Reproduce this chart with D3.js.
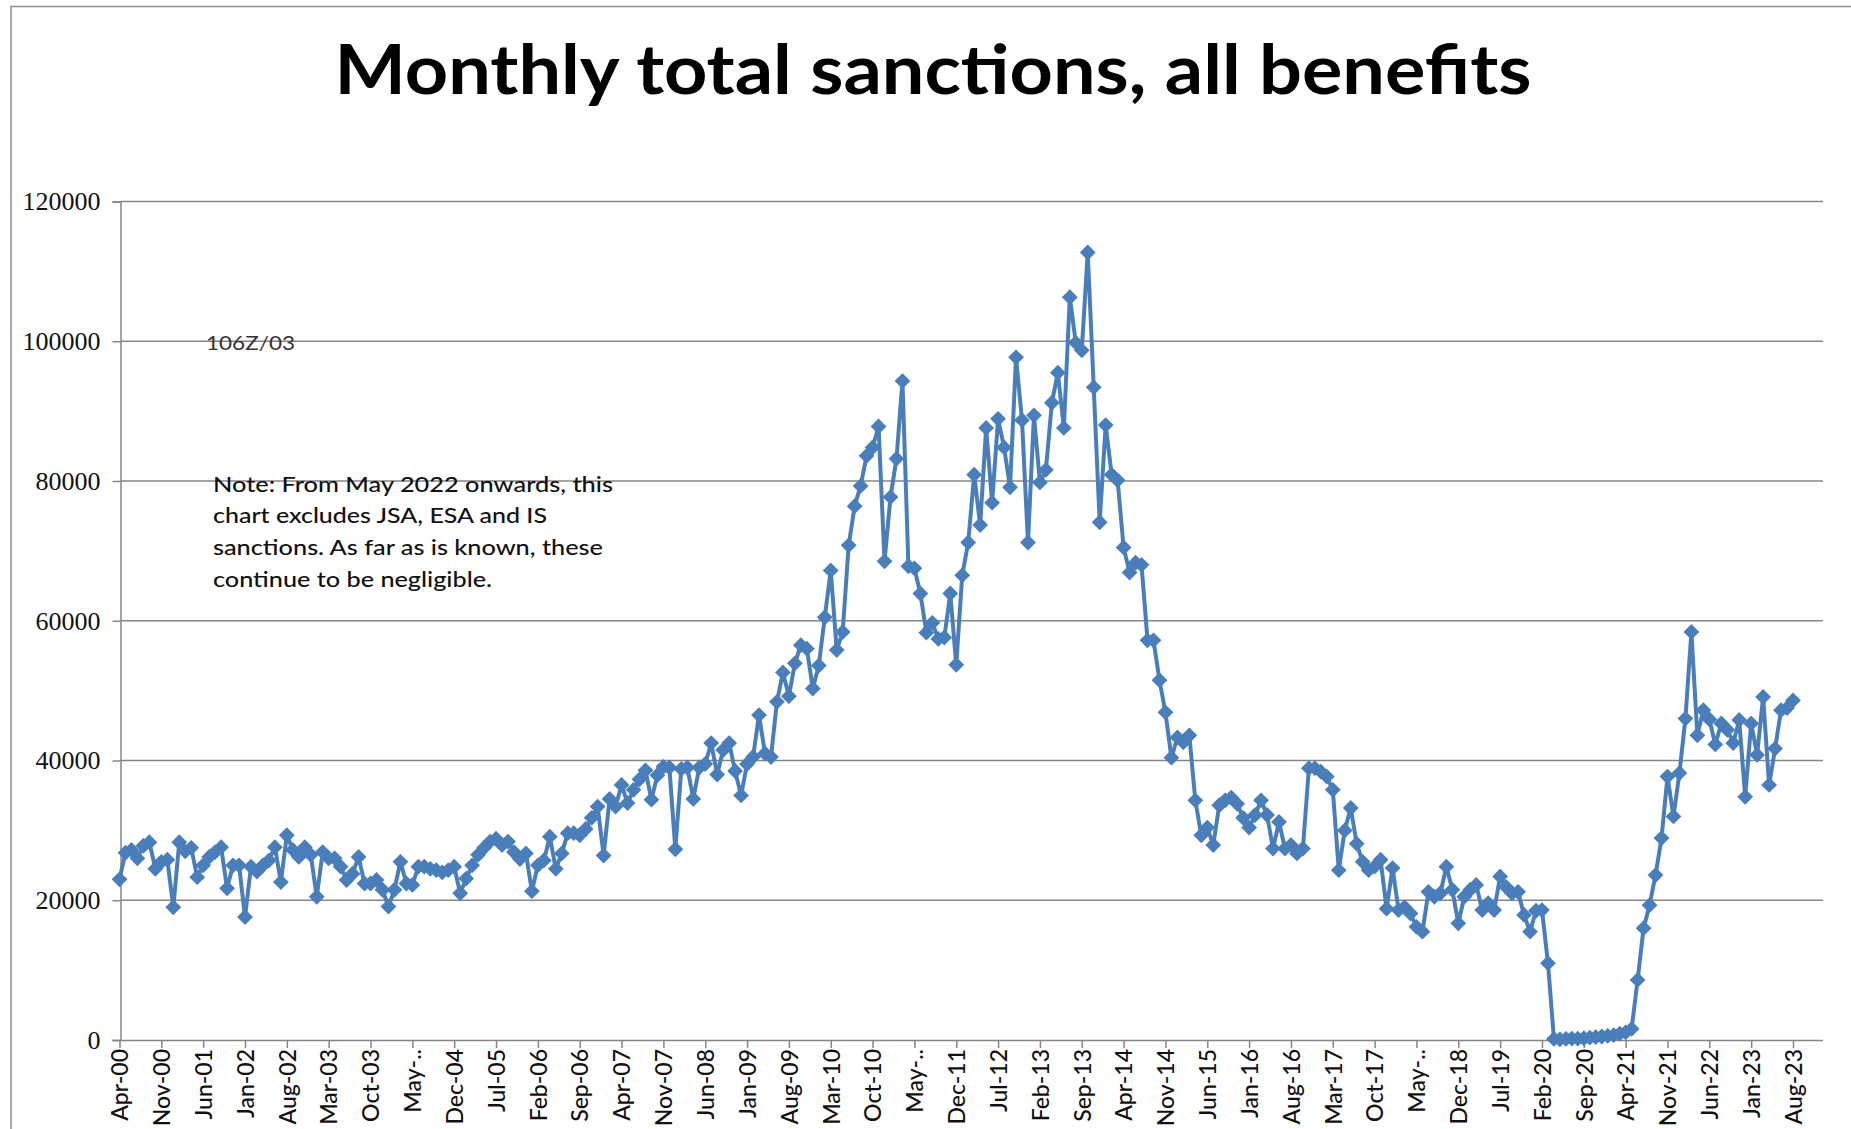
<!DOCTYPE html>
<html>
<head>
<meta charset="utf-8">
<script src="https://cdn.jsdelivr.net/npm/d3@7"></script>
<style>
  html, body { margin: 0; padding: 0; background: #fff; overflow: hidden; }
  svg { display: block; }
</style>
</head>
<body>
<svg id="chart" width="1851" height="1129"></svg>
<script>
// ---------------- DATA ----------------
const titleText = "Monthly total sanctions, all benefits";
const startMonth = new Date(2000, 3, 1);   // Apr-00
const endMonth = new Date(2023, 8, 1);     // exclusive -> last is Aug-23
const categories = d3.timeMonth.range(startMonth, endMonth).map(d3.timeFormat("%b-%y"));

const sanctions = [
  23000, 26800, 27200, 26000, 27800, 28300, 24500, 25500, 25800, 19000,
  28300, 27000, 27500, 23300, 25000, 26200, 26900, 27600, 21700, 25000,
  25000, 17600, 24800, 24100, 25000, 25700, 27600, 22600, 29300, 27200,
  26200, 27600, 26500, 20500, 26900, 26000, 26000, 24800, 22900, 23800,
  26200, 22400, 22400, 22900, 21500, 19100, 21500, 25500, 22400, 22200,
  24800, 24800, 24500, 24300, 24000, 24300, 24800, 21000, 23100, 25000,
  26500, 27500, 28400, 28800, 27900, 28400, 26900, 25900, 26700, 21300,
  25000, 25700, 29100, 24500, 26700, 29600, 29600, 29300, 30200, 31800,
  33400, 26400, 34500, 33400, 36500, 33900, 35800, 37300, 38600, 34400,
  37900, 39100, 39000, 27300, 38800, 39000, 34500, 39000, 39500, 42500,
  38000, 41500, 42500, 38500, 35000, 39500, 40500, 46500, 41000, 40500,
  48400, 52600, 49200, 53900, 56500, 56000, 50300, 53600, 60500, 67200,
  55800, 58400, 70800, 76400, 79300, 83600, 84800, 87800, 68500, 77700,
  83200, 94300, 67800, 67500, 63900, 58300, 59700, 57400, 57600, 63900,
  53700, 66500, 71200, 80900, 73700, 87600, 76900, 88900, 84800, 79100,
  97700, 88700, 71200, 89400, 79800, 81600, 91200, 95500, 87600, 106300,
  99800, 98700, 112700, 93400, 74100, 88000, 80900, 80100, 70500, 66900,
  68300, 68000, 57200, 57200, 51500, 46900, 40400, 43300, 42600, 43600,
  34300, 29300, 30400, 27900, 33600, 34300, 34700, 33800, 31800, 30400,
  32200, 34300, 32200, 27400, 31200, 27400, 27900, 26700, 27400, 38900,
  38900, 38400, 37700, 35800, 24300, 30000, 33200, 28100, 25500, 24300,
  24800, 25800, 18800, 24600, 18600, 19000, 18100, 16200, 15500, 21200,
  20500, 21000, 24800, 21500, 16700, 20500, 21500, 22200, 18600, 19600,
  18600, 23400, 21900, 21000, 21200, 17900, 15500, 18500, 18600, 11000,
  150, 100, 150, 200, 200, 250, 350, 400, 500, 600,
  700, 900, 1100, 1600, 8600, 16000, 19300, 23600, 28900, 37700,
  32000, 38200, 46000, 58400, 43600, 47200, 45900, 42300, 45300, 44400,
  42500, 45800, 34800, 45300, 40800, 49100, 36500, 41700, 47200, 47500, 48600
];

const tickLabels = [
  "Apr-00","Nov-00","Jun-01","Jan-02","Aug-02","Mar-03","Oct-03","May-..","Dec-04","Jul-05",
  "Feb-06","Sep-06","Apr-07","Nov-07","Jun-08","Jan-09","Aug-09","Mar-10","Oct-10","May-..",
  "Dec-11","Jul-12","Feb-13","Sep-13","Apr-14","Nov-14","Jun-15","Jan-16","Aug-16","Mar-17",
  "Oct-17","May-..","Dec-18","Jul-19","Feb-20","Sep-20","Apr-21","Nov-21","Jun-22","Jan-23","Aug-23"
];
const yTicks = [0, 20000, 40000, 60000, 80000, 100000, 120000];
const codeLabel = "106Z/03";
const noteLines = [
  "Note: From May 2022 onwards, this",
  "chart excludes JSA, ESA and IS",
  "sanctions. As far as is known, these",
  "continue to be negligible."
];

// ---------------- CHART ----------------
const svg = d3.select("#chart");
const W = 1851, H = 1129;
const plotLeft = 120.5, plotRight = 1823, plotTop = 201.5, plotBottom = 1040;
const blue = "#4a7ebb";
const gridColor = "#868686";
const sans = "Lato, 'Open Sans', 'Noto Sans', sans-serif";

svg.append("rect").attr("width", W).attr("height", H).attr("fill", "#fff");

// outer chart frame
svg.append("rect")
  .attr("x", 11).attr("y", 6.5).attr("width", 1900).attr("height", 1300)
  .attr("fill", "none").attr("stroke", "#8c8c8c").attr("stroke-width", 1.5);

// title
svg.append("text")
  .attr("x", 933).attr("y", 94)
  .attr("text-anchor", "middle")
  .attr("font-family", sans).attr("font-weight", 700)
  .attr("font-size", 68)
  .attr("textLength", 1197).attr("lengthAdjust", "spacingAndGlyphs")
  .attr("fill", "#000")
  .text(titleText);

const x = d3.scalePoint().domain(categories).range([plotLeft - 1, 1793]);
const y = d3.scaleLinear().domain([0, 120000]).range([plotBottom, plotTop]);

// gridlines
svg.append("g").selectAll("line")
  .data(yTicks.filter(d => d > 0))
  .join("line")
  .attr("x1", plotLeft).attr("x2", plotRight)
  .attr("y1", d => y(d)).attr("y2", d => y(d))
  .attr("stroke", gridColor).attr("stroke-width", 1.5);

// y axis
const yAxis = svg.append("g")
  .attr("transform", `translate(${plotLeft},0)`)
  .call(d3.axisLeft(y).tickValues(yTicks).tickSize(8).tickPadding(12).tickFormat(d => String(d)));
yAxis.select(".domain").attr("stroke", gridColor).attr("stroke-width", 1.5);
yAxis.selectAll(".tick line").attr("stroke", gridColor).attr("stroke-width", 1.5);
yAxis.selectAll(".tick text")
  .attr("font-family", "'Liberation Serif', 'Times New Roman', serif")
  .attr("font-size", 26).attr("fill", "#111");

// x axis
const tickCats = categories.filter((c, i) => i % 7 === 0);
const xAxis = svg.append("g")
  .attr("transform", `translate(0,${plotBottom})`)
  .call(d3.axisBottom(x).tickValues(tickCats).tickSize(8).tickSizeOuter(0)
        .tickFormat((c, i) => tickLabels[i]));
xAxis.select(".domain").attr("d", `M${plotLeft},0.5H${plotRight}`)
  .attr("stroke", gridColor).attr("stroke-width", 1.5);
xAxis.selectAll(".tick line").attr("stroke", gridColor).attr("stroke-width", 1.5);
xAxis.selectAll(".tick text")
  .attr("font-family", sans).attr("font-size", 23).attr("font-weight", 500).attr("fill", "#111")
  .attr("text-anchor", "end")
  .attr("transform", "rotate(-90)")
  .attr("x", -9).attr("y", 0).attr("dy", "0.36em");

// line
const pts = sanctions.map((v, i) => ({ c: categories[i], v }));
svg.append("path")
  .datum(pts)
  .attr("fill", "none")
  .attr("stroke", blue)
  .attr("stroke-width", 4)
  .attr("stroke-linejoin", "round")
  .attr("d", d3.line().x(d => x(d.c)).y(d => y(d.v)));

// diamond markers
const diamond = d3.symbol().type(d3.symbolSquare).size(125);
svg.append("g").selectAll("path")
  .data(pts)
  .join("path")
  .attr("d", diamond)
  .attr("transform", d => `translate(${x(d.c)},${y(d.v)}) rotate(45)`)
  .attr("fill", blue);

// annotations
svg.append("text")
  .attr("x", 206).attr("y", 350)
  .attr("font-family", sans).attr("font-size", 20)
  .attr("textLength", 89).attr("lengthAdjust", "spacingAndGlyphs")
  .attr("fill", "#333")
  .text(codeLabel);

const noteWidths = [400, 334, 390, 279];
svg.append("g").selectAll("text")
  .data(noteLines)
  .join("text")
  .attr("x", 213)
  .attr("y", (d, i) => 491.5 + i * 31.7)
  .attr("font-family", sans).attr("font-size", 22).attr("font-weight", 500)
  .attr("textLength", (d, i) => noteWidths[i]).attr("lengthAdjust", "spacingAndGlyphs")
  .attr("fill", "#111")
  .text(d => d);
</script>
</body>
</html>
